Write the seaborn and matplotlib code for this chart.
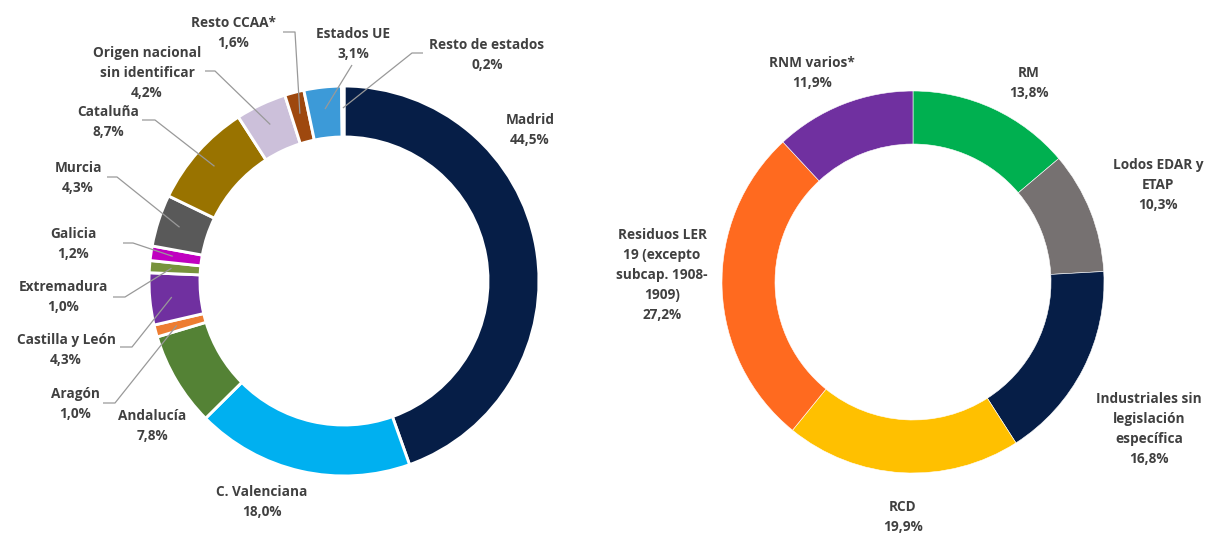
import numpy as np
import matplotlib
matplotlib.use("Agg")
import matplotlib.pyplot as plt
import seaborn as sns

# ---------------- data ----------------
origen_labels = ["Madrid", "C. Valenciana", "Andalucía", "Aragón", "Castilla y León",
                 "Extremadura", "Galicia", "Murcia", "Cataluña",
                 "Origen nacional\nsin identificar", "Resto CCAA*", "Estados UE",
                 "Resto de estados"]
origen_values = [44.5, 18.0, 7.8, 1.0, 4.3, 1.0, 1.2, 4.3, 8.7, 4.2, 1.6, 3.1, 0.2]
origen_colors = ["#061E47", "#00B0F0", "#548235", "#ED7D31", "#7030A0", "#77933C",
                 "#C000C0", "#595959", "#997300", "#CCC0DA", "#9E480E", "#3C9AD8",
                 "#A6A6A6"]

tipo_labels = ["RM", "Lodos EDAR y\nETAP", "Industriales sin\nlegislación\nespecífica",
               "RCD", "Residuos LER\n19 (excepto\nsubcap. 1908-\n1909)", "RNM varios*"]
tipo_values = [13.8, 10.3, 16.8, 19.9, 27.2, 11.9]
tipo_colors = ["#00B050", "#767171", "#061E47", "#FFC000", "#FF6A1F", "#7030A0"]

# ---------------- layout (pixel coordinates, y from top) ----------------
W, H = 1214, 533
LEFT_C, LEFT_R = (344, 281), 195
RIGHT_C, RIGHT_R = (913, 282), 191
RING = 51

left_text_pos = {0: (530, 130), 1: (262, 502), 2: (152, 426), 3: (75, 404),
                 4: (66, 350), 5: (63, 297), 6: (73, 244), 7: (78, 178),
                 8: (108, 122), 9: (147, 73), 10: (233, 33), 11: (353, 44),
                 12: (487, 55)}
# leader lines: list of points from label side, end point computed from the wedge
left_leaders = {3: [(103, 403), (115, 403)], 4: [(120, 347), (132, 347)],
                5: [(113, 297), (125, 297)], 6: [(123, 243), (133, 243)],
                7: [(107, 177), (117, 177)], 8: [(142, 120), (155, 120)],
                9: [(205, 71), (215, 71)], 10: [(283, 32), (295, 32)],
                11: [(352, 65)], 12: [(423, 53), (412, 53)]}

right_text_pos = {0: (1029, 83), 1: (1158, 185), 2: (1149, 429), 3: (903, 517),
                  4: (662, 275), 5: (812, 73)}

TEXT_COLOR = "#404040"
LINE_COLOR = "#999999"

sns.set_theme(style="white")
plt.rcParams["font.family"] = ["Open Sans", "DejaVu Sans"]

fig = plt.figure(figsize=(W / 100, H / 100), dpi=100)
ax = fig.add_axes([0, 0, 1, 1])


def fy(y):
    return H - y


def pct(v):
    return f"{v:.1f}".replace(".", ",") + "%"


wl, _ = ax.pie(origen_values, colors=origen_colors, center=(LEFT_C[0], fy(LEFT_C[1])),
               radius=LEFT_R, startangle=90, counterclock=False,
               wedgeprops=dict(width=RING, edgecolor="white", linewidth=2.1))
wr, _ = ax.pie(tipo_values, colors=tipo_colors, center=(RIGHT_C[0], fy(RIGHT_C[1])),
               radius=RIGHT_R, startangle=90, counterclock=False,
               wedgeprops=dict(width=RING + 2, edgecolor="white", linewidth=0.4))

txt_kw = dict(ha="center", va="center", color=TEXT_COLOR, fontsize=9.8,
              fontweight="bold", linespacing=1.55, multialignment="center")

for i, (lab, v) in enumerate(zip(origen_labels, origen_values)):
    x, y = left_text_pos[i]
    ax.text(x, fy(y), f"{lab}\n{pct(v)}", **txt_kw)
    if i in left_leaders:
        w = wl[i]
        mid = np.deg2rad((w.theta1 + w.theta2) / 2)
        r_end = LEFT_R - 22
        ex = LEFT_C[0] + r_end * np.cos(mid)
        ey = fy(LEFT_C[1]) + r_end * np.sin(mid)
        pts = [(px, fy(py)) for px, py in left_leaders[i]] + [(ex, ey)]
        xs, ys = zip(*pts)
        ax.plot(xs, ys, color=LINE_COLOR, lw=0.9, solid_capstyle="butt")

for i, (lab, v) in enumerate(zip(tipo_labels, tipo_values)):
    x, y = right_text_pos[i]
    ax.text(x, fy(y), f"{lab}\n{pct(v)}", **txt_kw)

ax.set_xlim(0, W)
ax.set_ylim(0, H)
ax.set_aspect("equal")
ax.axis("off")

fig.savefig("out.png", dpi=100, facecolor="white")
